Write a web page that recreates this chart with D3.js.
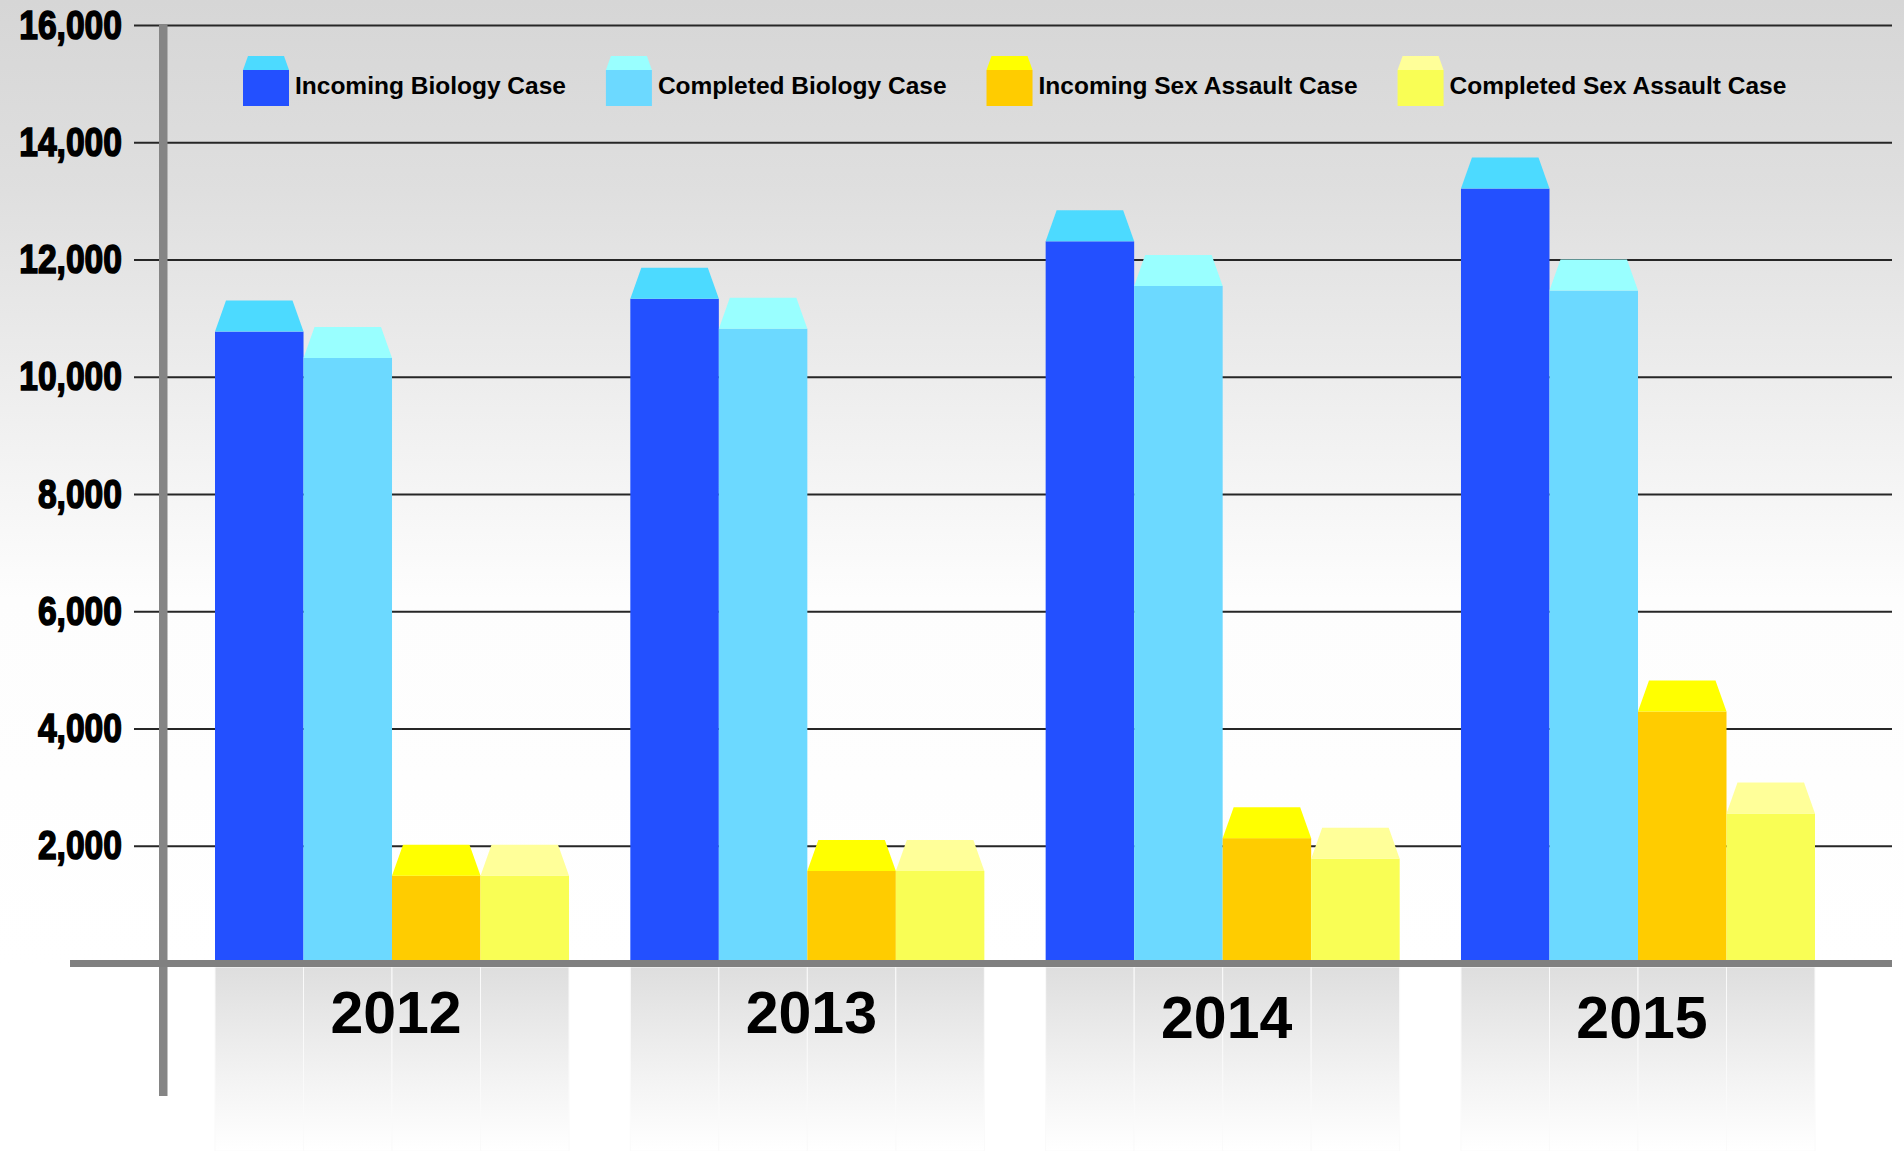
<!DOCTYPE html>
<html>
<head>
<meta charset="utf-8">
<script src="https://cdn.jsdelivr.net/npm/d3@7"></script>
<style>
  body { margin: 0; background: #fff; }
  svg { display: block; }
</style>
</head>
<body>
<script>
// data
const years = ["2012", "2013", "2014", "2015"];
const seriesNames = ["Incoming Biology Case", "Completed Biology Case", "Incoming Sex Assault Case", "Completed Sex Assault Case"];
const incomingBio = [10770, 11330, 12310, 13210];
const completedBio = [10320, 10820, 11550, 11470];
const incomingSex = [1490, 1570, 2130, 4290];
const completedSex = [1490, 1570, 1780, 2550];
const yTicks = [2000, 4000, 6000, 8000, 10000, 12000, 14000, 16000];

const frontColors = ["#2350ff", "#6cd9ff", "#ffcc00", "#f9fe55"];
const capColors = ["#4cdaff", "#99ffff", "#ffff00", "#ffff99"];

const W = 1904, H = 1151;
const svg = d3.select("body").append("svg")
    .attr("width", W)
    .attr("height", H);

const defs = svg.append("defs");
const bg = defs.append("linearGradient").attr("id", "bg")
    .attr("x1", 0).attr("y1", 0).attr("x2", 0).attr("y2", 1);
bg.append("stop").attr("offset", 0).attr("stop-color", "#d6d6d6");
bg.append("stop").attr("offset", 0.2).attr("stop-color", "#dfdfdf");
bg.append("stop").attr("offset", 0.62).attr("stop-color", "#fdfdfd");
bg.append("stop").attr("offset", 1).attr("stop-color", "#ffffff");

const refl = defs.append("linearGradient").attr("id", "refl")
    .attr("x1", 0).attr("y1", 0).attr("x2", 0).attr("y2", 1);
refl.append("stop").attr("offset", 0).attr("stop-color", "#dedede");
refl.append("stop").attr("offset", 0.6).attr("stop-color", "#f3f3f3");
refl.append("stop").attr("offset", 1).attr("stop-color", "#ffffff");

svg.append("rect").attr("width", W).attr("height", 965).attr("fill", "url(#bg)");

// scales
const x0 = d3.scaleBand().domain(years).range([215, 1815]).paddingInner(0.1476).paddingOuter(0);
const x1 = d3.scaleBand().domain(seriesNames).range([0, x0.bandwidth()]);
const y = d3.scaleLinear().domain([0, 16000]).range([963, 25]);

// gridlines + labels
const yAxis = svg.append("g")
    .attr("transform", "translate(134,0)")
    .call(d3.axisLeft(y).tickValues(yTicks).tickSize(-(1892 - 134)).tickPadding(12)
        .tickFormat(d3.format(",")));
yAxis.select(".domain").remove();
yAxis.selectAll(".tick line").attr("stroke", "#262626").attr("stroke-width", 2.2);
yAxis.selectAll(".tick text")
    .attr("x", -12 / 0.82)
    .attr("transform", "scale(0.82,1)")
    .attr("fill", "#000")
    .attr("stroke", "#000")
    .attr("stroke-width", 1.6)
    .style("font-family", "'Liberation Sans', Arial, sans-serif")
    .style("font-weight", "bold")
    .style("font-size", "41px");

// vertical axis bar
svg.append("rect").attr("x", 159).attr("y", 24).attr("width", 8.5).attr("height", 1096 - 24).attr("fill", "#858585");

const rows = years.map(function(yr, i) {
    return { year: yr, values: [incomingBio[i], completedBio[i], incomingSex[i], completedSex[i]] };
});

const capH = 31, capIn = 11;
const groups = svg.selectAll(".grp").data(rows).enter().append("g")
    .attr("class", "grp")
    .attr("transform", function(d) { return "translate(" + x0(d.year) + ",0)"; });

// reflection below the axis
groups.selectAll(".refl").data(function(d) { return d.values; }).enter().append("rect")
    .attr("x", function(d, i) { return x1(seriesNames[i]); })
    .attr("y", 967)
    .attr("width", x1.bandwidth())
    .attr("height", H - 967)
    .attr("fill", "url(#refl)")
    .attr("stroke", "#fafafa")
    .attr("stroke-width", 1);

// bar fronts
groups.selectAll(".front").data(function(d) { return d.values; }).enter().append("rect")
    .attr("x", function(d, i) { return x1(seriesNames[i]); })
    .attr("y", function(d) { return y(d); })
    .attr("width", x1.bandwidth())
    .attr("height", function(d) { return y(0) - y(d); })
    .attr("fill", function(d, i) { return frontColors[i]; });

// bar caps
groups.selectAll(".cap").data(function(d) { return d.values; }).enter().append("path")
    .attr("d", function(d, i) {
        const l = x1(seriesNames[i]), r = l + x1.bandwidth(), t = y(d);
        return "M" + l + "," + t + "L" + (l + capIn) + "," + (t - capH) + "L" + (r - capIn) + "," + (t - capH) + "L" + r + "," + t + "Z";
    })
    .attr("fill", function(d, i) { return capColors[i]; });

// horizontal axis bar
svg.append("rect").attr("x", 70).attr("y", 960).attr("width", 1892 - 70).attr("height", 7).attr("fill", "#808080");

// year labels
svg.selectAll(".yr").data(years).enter().append("text")
    .attr("x", function(d) { return x0(d) + x0.bandwidth() / 2 + 4; })
    .attr("y", function(d, i) { return i < 2 ? 1033 : 1038; })
    .attr("text-anchor", "middle")
    .style("font-family", "'Liberation Sans', Arial, sans-serif")
    .style("font-weight", "bold")
    .style("font-size", "59px")
    .attr("fill", "#000")
    .text(function(d) { return d; });

// legend
const legend = svg.append("g");
let lx = 243;
seriesNames.forEach(function(name, i) {
    legend.append("rect").attr("x", lx).attr("y", 70).attr("width", 46).attr("height", 36).attr("fill", frontColors[i]);
    legend.append("path")
        .attr("d", "M" + lx + ",70L" + (lx + 5) + ",56L" + (lx + 41) + ",56L" + (lx + 46) + ",70Z")
        .attr("fill", capColors[i]);
    const t = legend.append("text")
        .attr("x", lx + 52)
        .attr("y", 94)
        .style("font-family", "'Liberation Sans', Arial, sans-serif")
        .style("font-weight", "bold")
        .style("font-size", "24.5px")
        .attr("fill", "#000")
        .text(name);
    lx = lx + 52 + t.node().getComputedTextLength() + 40;
});
</script>
</body>
</html>
